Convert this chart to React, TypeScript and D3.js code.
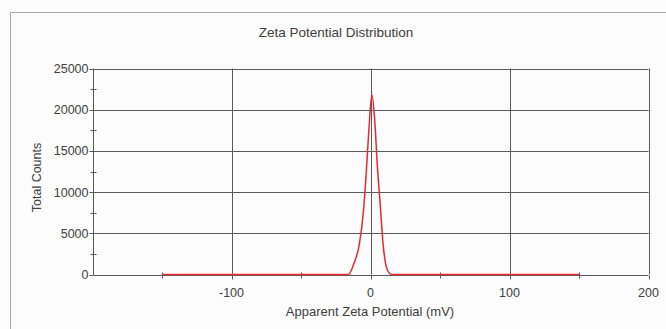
import React, { useEffect, useRef } from "react";
import * as d3 from "d3";

const WIDTH = 666;
const HEIGHT = 329;

// Apparent zeta potential (mV) and total counts
const potentials = [-150, -16, -12, -8, -5, -3, -1, 1, 3, 5, 7, 9, 12, 15, 150];
const counts = [0, 0, 1300, 3700, 7800, 12500, 18000, 21800, 18800, 13000, 8500, 3800, 600, 0, 0];

const xMajorTicks = [-100, 0, 100, 200];
const xMinorTicks = [-150, -50, 50, 150];
const yMajorTicks = [0, 5000, 10000, 15000, 20000, 25000];
const yMinorTicks = [2500, 7500, 12500, 17500, 22500];

const TITLE = "Zeta Potential Distribution";
const X_LABEL = "Apparent Zeta Potential (mV)";
const Y_LABEL = "Total Counts";

const margin = { top: 68.5, right: 17.5, bottom: 54.5, left: 92.5 };

export default function App() {
  const ref = useRef<SVGSVGElement>(null);

  useEffect(() => {
    if (!ref.current) return;
    const svg = d3.select(ref.current);
    svg.selectAll("*").remove();

    const x = d3
      .scaleLinear()
      .domain([-200, 200])
      .range([margin.left, WIDTH - margin.right]);
    const y = d3
      .scaleLinear()
      .domain([0, 25000])
      .range([HEIGHT - margin.bottom, margin.top]);

    const font = "'Liberation Sans', Arial, sans-serif";
    const textColor = "#404040";
    const gridColor = "#5a5a5a";

    svg
      .append("rect")
      .attr("width", WIDTH)
      .attr("height", HEIGHT)
      .attr("fill", "#fcfcfc");

    // outer frame
    svg
      .append("path")
      .attr("d", `M10.5,${HEIGHT} V12.5 H${WIDTH}`)
      .attr("fill", "none")
      .attr("stroke", "#a8a8a8");

    svg
      .append("text")
      .attr("x", 336)
      .attr("y", 37)
      .attr("text-anchor", "middle")
      .attr("font-family", font)
      .attr("font-size", 13.5)
      .attr("fill", textColor)
      .text(TITLE);

    const g = svg.append("g");

    // grid
    g.selectAll(".hgrid")
      .data(yMajorTicks.slice(1))
      .enter()
      .append("line")
      .attr("x1", x(-200))
      .attr("x2", x(200))
      .attr("y1", (d) => Math.round(y(d)) + 0.5)
      .attr("y2", (d) => Math.round(y(d)) + 0.5)
      .attr("stroke", gridColor);

    g.selectAll(".vgrid")
      .data(xMajorTicks)
      .enter()
      .append("line")
      .attr("x1", (d) => Math.round(x(d)) + 0.5)
      .attr("x2", (d) => Math.round(x(d)) + 0.5)
      .attr("y1", y(0))
      .attr("y2", y(25000))
      .attr("stroke", gridColor);

    // axes
    const x0 = Math.round(x(-200)) + 0.5;
    const y0 = Math.round(y(0)) + 0.5;
    g.append("line")
      .attr("x1", x0)
      .attr("x2", x(200))
      .attr("y1", y0)
      .attr("y2", y0)
      .attr("stroke", gridColor);
    g.append("line")
      .attr("x1", x0)
      .attr("x2", x0)
      .attr("y1", y0)
      .attr("y2", y(25000))
      .attr("stroke", gridColor);

    // ticks
    g.selectAll(".ymaj")
      .data(yMajorTicks)
      .enter()
      .append("line")
      .attr("x1", x0 - 4)
      .attr("x2", x0)
      .attr("y1", (d) => Math.round(y(d)) + 0.5)
      .attr("y2", (d) => Math.round(y(d)) + 0.5)
      .attr("stroke", gridColor);
    g.selectAll(".ymin")
      .data(yMinorTicks)
      .enter()
      .append("line")
      .attr("x1", x0 - 3)
      .attr("x2", x0 + 3)
      .attr("y1", (d) => Math.round(y(d)) + 0.5)
      .attr("y2", (d) => Math.round(y(d)) + 0.5)
      .attr("stroke", gridColor);
    g.selectAll(".xmaj")
      .data(xMajorTicks)
      .enter()
      .append("line")
      .attr("x1", (d) => Math.round(x(d)) + 0.5)
      .attr("x2", (d) => Math.round(x(d)) + 0.5)
      .attr("y1", y0)
      .attr("y2", y0 + 4)
      .attr("stroke", gridColor);
    g.selectAll(".xmin")
      .data(xMinorTicks)
      .enter()
      .append("line")
      .attr("x1", (d) => Math.round(x(d)) + 0.5)
      .attr("x2", (d) => Math.round(x(d)) + 0.5)
      .attr("y1", y0 - 3)
      .attr("y2", y0 + 3)
      .attr("stroke", gridColor);

    // tick labels
    g.selectAll(".ylab")
      .data(yMajorTicks)
      .enter()
      .append("text")
      .attr("x", x0 - 5)
      .attr("y", (d) => y(d) + 4.5)
      .attr("text-anchor", "end")
      .attr("font-family", font)
      .attr("font-size", 12.5)
      .attr("fill", textColor)
      .text((d) => d);
    g.selectAll(".xlab")
      .data(xMajorTicks)
      .enter()
      .append("text")
      .attr("x", (d) => x(d))
      .attr("y", 297)
      .attr("text-anchor", "middle")
      .attr("font-family", font)
      .attr("font-size", 12.5)
      .attr("fill", textColor)
      .text((d) => d);

    // axis titles
    svg
      .append("text")
      .attr("x", 370)
      .attr("y", 316)
      .attr("text-anchor", "middle")
      .attr("font-family", font)
      .attr("font-size", 13)
      .attr("fill", textColor)
      .text(X_LABEL);
    svg
      .append("text")
      .attr("transform", `translate(41 ${(y(0) + y(25000)) / 2 + 6}) rotate(-90)`)
      .attr("text-anchor", "middle")
      .attr("font-family", font)
      .attr("font-size", 12.5)
      .attr("fill", textColor)
      .text(Y_LABEL);

    // distribution curve
    const line = d3
      .line<number>()
      .x((d) => x(d))
      .y((_, i) => y(counts[i]))
      .curve(d3.curveMonotoneX);
    g.append("path")
      .attr("d", line(potentials))
      .attr("fill", "none")
      .attr("stroke", "#e62a30")
      .attr("stroke-width", 1.5);
  }, []);

  return (
    <svg
      ref={ref}
      width={WIDTH}
      height={HEIGHT}
      style={{ position: "absolute", left: 0, top: 0, display: "block" }}
    />
  );
}
